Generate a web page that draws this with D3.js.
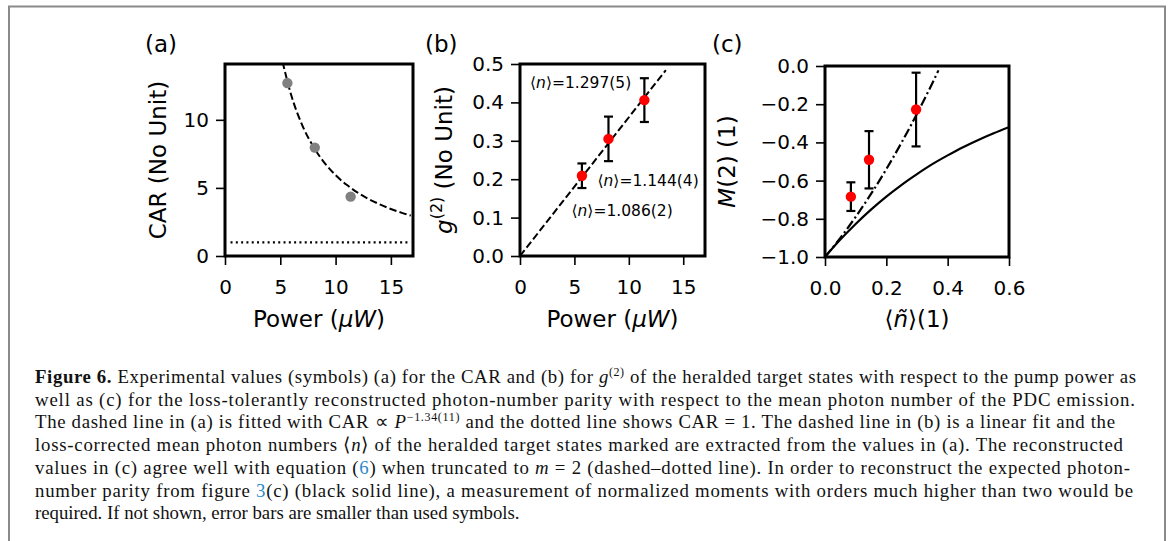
<!DOCTYPE html>
<html><head><meta charset="utf-8">
<script src="https://cdn.jsdelivr.net/npm/d3@7"></script>
<style>body{margin:0;background:#fff} svg{display:block}</style>
</head><body>
<svg id="chart" width="1169" height="541"></svg>
<script>
// ---------- data ----------
// (a) CAR vs power
const powerA = [5.64, 8.12, 11.36];
const carA = [12.7, 7.96, 4.36];
const fitPowerA = [5.2, 6, 7, 8, 9, 10, 11, 12, 13, 14, 15, 16, 16.8];
const fitCarA = [14.27, 11.78, 9.58, 8.01, 6.84, 5.94, 5.23, 4.65, 4.18, 3.79, 3.45, 3.17, 2.97];
const carOneX = [0.5, 16.8];
const carOneY = [1, 1];
const ticksAx = [0, 5, 10, 15];
const ticksAy = [0, 5, 10];

// (b) g2 vs power
const powerB = [5.69, 8.13, 11.43];
const g2B = [0.209, 0.305, 0.406];
const g2ErrB = [0.032, 0.058, 0.057];
const fitPowerB = [0, 13.4];
const fitG2B = [0, 0.484];
const annValues = ["1.297(5)", "1.144(4)", "1.086(2)"];
const annX = [0.92, 7.12, 4.73];
const annY = [0.438, 0.181, 0.104];
const ticksBx = [0, 5, 10, 15];
const ticksBy = [0, 0.1, 0.2, 0.3, 0.4, 0.5];

// (c) parity vs mean photon number
const nC = [0.0844, 0.1435, 0.297];
const mC = [-0.684, -0.491, -0.228];
const mErrC = [0.075, 0.15, 0.193];
const theoryN = [0, 0.05, 0.1, 0.15, 0.2, 0.25, 0.3, 0.35, 0.4, 0.45, 0.5, 0.55, 0.6];
const theoryM = [-1, -0.909, -0.827, -0.752, -0.684, -0.622, -0.566, -0.514, -0.468, -0.425, -0.387, -0.352, -0.320];
const truncN = [0, 0.05, 0.1, 0.15, 0.2, 0.25, 0.3, 0.35, 0.37];
const truncM = [-1, -0.900, -0.79, -0.67, -0.54, -0.40, -0.25, -0.09, -0.023];
const ticksCx = [0, 0.2, 0.4, 0.6];
const ticksCy = [0, -0.2, -0.4, -0.6, -0.8, -1.0];

// ---------- drawing ----------
const FONT = "'DejaVu Sans', sans-serif";
const SERIF = "'Liberation Serif', 'Times New Roman', serif";
const svg = d3.select('#chart');

svg.append('rect').attr('x', 9).attr('y', 6.5).attr('width', 1156).attr('height', 600)
  .attr('fill', 'none').attr('stroke', '#8a8a8a').attr('stroke-width', 2);

function makeClip(id, b) {
  svg.append('clipPath').attr('id', id).append('rect')
    .attr('x', b.x0).attr('y', b.y0).attr('width', b.x1 - b.x0).attr('height', b.y1 - b.y0);
}

function drawAxes(x, y, xt, yt, xfmt, yfmt, b) {
  const gx = svg.append('g').attr('transform', `translate(0,${b.y1})`)
    .call(d3.axisBottom(x).tickValues(xt).tickFormat(xfmt).tickSize(9).tickPadding(15));
  const gy = svg.append('g').attr('transform', `translate(${b.x0},0)`)
    .call(d3.axisLeft(y).tickValues(yt).tickFormat(yfmt).tickSize(9).tickPadding(7));
  [gx, gy].forEach(g => {
    g.select('.domain').remove();
    g.selectAll('line').attr('stroke', '#000').attr('stroke-width', 1.6);
    g.selectAll('text').attr('font-family', FONT).attr('font-size', 20).attr('fill', '#000');
  });
  svg.append('rect').attr('x', b.x0).attr('y', b.y0).attr('width', b.x1 - b.x0).attr('height', b.y1 - b.y0)
    .attr('fill', 'none').attr('stroke', '#000').attr('stroke-width', 3);
}

function errBars(g, xs, ys, es, x, y) {
  xs.forEach((v, i) => {
    const cx = x(v), top = y(ys[i] + es[i]), bot = y(ys[i] - es[i]);
    g.append('line').attr('x1', cx).attr('x2', cx).attr('y1', top).attr('y2', bot).attr('stroke', '#000').attr('stroke-width', 2.2);
    [top, bot].forEach(yy => g.append('line').attr('x1', cx - 4.5).attr('x2', cx + 4.5).attr('y1', yy).attr('y2', yy)
      .attr('stroke', '#000').attr('stroke-width', 2.2));
  });
}

function panelTitle(txt, px, py) {
  svg.append('text').attr('x', px).attr('y', py).attr('font-family', FONT).attr('font-size', 23).text(txt);
}

// ---- panel (a)
{
  const b = {x0: 225, x1: 413, y0: 64, y1: 256};
  const x = d3.scaleLinear().domain([0, 17]).range([b.x0, b.x1]);
  const y = d3.scaleLinear().domain([0, 14.1]).range([b.y1, b.y0]);
  makeClip('clipA', b);
  const g = svg.append('g').attr('clip-path', 'url(#clipA)');
  const line = d3.line().x(d => x(d[0])).y(d => y(d[1])).curve(d3.curveMonotoneX);
  g.append('path').attr('d', line(fitPowerA.map((p, i) => [p, fitCarA[i]])))
    .attr('fill', 'none').attr('stroke', '#000').attr('stroke-width', 2).attr('stroke-dasharray', '7.4,3.2');
  g.append('path').attr('d', line(carOneX.map((p, i) => [p, carOneY[i]])))
    .attr('fill', 'none').attr('stroke', '#000').attr('stroke-width', 2.2).attr('stroke-dasharray', '2,3.3');
  g.selectAll('circle').data(powerA).join('circle')
    .attr('cx', d => x(d)).attr('cy', (d, i) => y(carA[i])).attr('r', 5.2).attr('fill', '#808080');
  drawAxes(x, y, ticksAx, ticksAy, d3.format('d'), d3.format('d'), b);
  svg.append('text').attr('transform', `translate(166,${(b.y0 + b.y1) / 2}) rotate(-90)`)
    .attr('text-anchor', 'middle').attr('font-family', FONT).attr('font-size', 23).text('CAR (No Unit)');
  const xl = svg.append('text').attr('x', (b.x0 + b.x1) / 2).attr('y', 327).attr('text-anchor', 'middle')
    .attr('font-family', FONT).attr('font-size', 23);
  xl.append('tspan').text('Power (');
  xl.append('tspan').attr('font-style', 'italic').text('μW');
  xl.append('tspan').text(')');
  panelTitle('(a)', 145, 52);
}

// ---- panel (b)
{
  const b = {x0: 520, x1: 705, y0: 64, y1: 256};
  const x = d3.scaleLinear().domain([0, 17]).range([b.x0, b.x1]);
  const y = d3.scaleLinear().domain([0, 0.5]).range([b.y1, b.y0]);
  makeClip('clipB', b);
  const g = svg.append('g').attr('clip-path', 'url(#clipB)');
  const line = d3.line().x(d => x(d[0])).y(d => y(d[1]));
  g.append('path').attr('d', line(fitPowerB.map((p, i) => [p, fitG2B[i]])))
    .attr('fill', 'none').attr('stroke', '#000').attr('stroke-width', 2).attr('stroke-dasharray', '7.4,3.2');
  errBars(g, powerB, g2B, g2ErrB, x, y);
  g.selectAll('circle').data(powerB).join('circle')
    .attr('cx', d => x(d)).attr('cy', (d, i) => y(g2B[i])).attr('r', 5.2).attr('fill', '#ff0000');
  annValues.forEach((v, i) => {
    const t = svg.append('text').attr('x', x(annX[i])).attr('y', y(annY[i]))
      .attr('font-family', FONT).attr('font-size', 15.5);
    t.append('tspan').text('⟨');
    t.append('tspan').attr('font-style', 'italic').text('n');
    t.append('tspan').text('⟩=' + v);
  });
  drawAxes(x, y, ticksBx, ticksBy, d3.format('d'), d3.format('.1f'), b);
  const yl = svg.append('text').attr('transform', `translate(452,${(b.y0 + b.y1) / 2}) rotate(-90)`)
    .attr('text-anchor', 'middle').attr('font-family', FONT).attr('font-size', 23);
  yl.append('tspan').attr('font-style', 'italic').text('g');
  yl.append('tspan').attr('font-size', 16).attr('dy', -10).text('(2)');
  yl.append('tspan').attr('dy', 10).text(' (No Unit)');
  const xl = svg.append('text').attr('x', (b.x0 + b.x1) / 2).attr('y', 327).attr('text-anchor', 'middle')
    .attr('font-family', FONT).attr('font-size', 23);
  xl.append('tspan').text('Power (');
  xl.append('tspan').attr('font-style', 'italic').text('μW');
  xl.append('tspan').text(')');
  panelTitle('(b)', 425, 52);
}

// ---- panel (c)
{
  const b = {x0: 825, x1: 1009, y0: 66, y1: 257};
  const x = d3.scaleLinear().domain([0, 0.6]).range([b.x0, b.x1]);
  const y = d3.scaleLinear().domain([-1, 0]).range([b.y1, b.y0]);
  makeClip('clipC', b);
  const g = svg.append('g').attr('clip-path', 'url(#clipC)');
  const line = d3.line().x(d => x(d[0])).y(d => y(d[1])).curve(d3.curveMonotoneX);
  g.append('path').attr('d', line(theoryN.map((n, i) => [n, theoryM[i]])))
    .attr('fill', 'none').attr('stroke', '#000').attr('stroke-width', 2.2);
  g.append('path').attr('d', line(truncN.map((n, i) => [n, truncM[i]])))
    .attr('fill', 'none').attr('stroke', '#000').attr('stroke-width', 2.2).attr('stroke-dasharray', '9.6,3.2,2,3.2');
  errBars(g, nC, mC, mErrC, x, y);
  g.selectAll('circle').data(nC).join('circle')
    .attr('cx', d => x(d)).attr('cy', (d, i) => y(mC[i])).attr('r', 5.2).attr('fill', '#ff0000');
  drawAxes(x, y, ticksCx, ticksCy, d3.format('.1f'), d3.format('.1f'), b);
  const yl = svg.append('text').attr('transform', `translate(735,${(b.y0 + b.y1) / 2}) rotate(-90)`)
    .attr('text-anchor', 'middle').attr('font-family', FONT).attr('font-size', 23);
  yl.append('tspan').attr('font-style', 'italic').text('M');
  yl.append('tspan').text('(2) (1)');
  const xl = svg.append('text').attr('x', (b.x0 + b.x1) / 2).attr('y', 327).attr('text-anchor', 'middle')
    .attr('font-family', FONT).attr('font-size', 23);
  xl.append('tspan').text('⟨');
  xl.append('tspan').attr('font-style', 'italic').text('ñ');
  xl.append('tspan').text('⟩(1)');
  panelTitle('(c)', 712, 52);
}

// ---------- caption ----------
const captionLines = [
  [["b", "Figure 6."], ["", " Experimental values (symbols) (a) for the CAR and (b) for "], ["i", "g"], ["sup", "(2)"], ["", " of the heralded target states with respect to the pump power as"]],
  [["", "well as (c) for the loss-tolerantly reconstructed photon-number parity with respect to the mean photon number of the PDC emission."]],
  [["", "The dashed line in (a) is fitted with CAR \u221D "], ["i", "P"], ["sup", "\u22121.34(11)"], ["", " and the dotted line shows CAR = 1. The dashed line in (b) is a linear fit and the"]],
  [["", "loss-corrected mean photon numbers \u27E8"], ["i", "n"], ["", "\u27E9 of the heralded target states marked are extracted from the values in (a). The reconstructed"]],
  [["", "values in (c) agree well with equation ("], ["link", "6"], ["", ") when truncated to "], ["i", "m"], ["", " = 2 (dashed\u2013dotted line). In order to reconstruct the expected photon-"]],
  [["", "number parity from figure "], ["link", "3"], ["", "(c) (black solid line), a measurement of normalized moments with orders much higher than two would be"]],
  [["", "required. If not shown, error bars are smaller than used symbols."]]
];
const captionRight = [1136, 1135, 1115, 1123, 1130, 1133, null];
const capX = 35, capY0 = 383, capDY = 22.7;

captionLines.forEach((segs, li) => {
  const t = svg.append('text').attr('x', capX).attr('y', capY0 + li * capDY)
    .attr('font-family', SERIF).attr('font-size', 18.8).attr('fill', '#111');
  if (captionRight[li]) t.attr('textLength', captionRight[li] - capX).attr('lengthAdjust', 'spacing');
  let raised = false;
  segs.forEach(([st, txt]) => {
    const s = t.append('tspan').text(txt);
    if (st === 'b') s.attr('font-weight', 'bold');
    if (st === 'i') s.attr('font-style', 'italic');
    if (st === 'link') s.attr('fill', '#2a8ac8');
    if (st === 'sup') { s.attr('font-size', 12).attr('dy', -7); raised = true; }
    else if (raised) { s.attr('dy', 7); raised = false; }
  });
});
</script>
</body></html>
